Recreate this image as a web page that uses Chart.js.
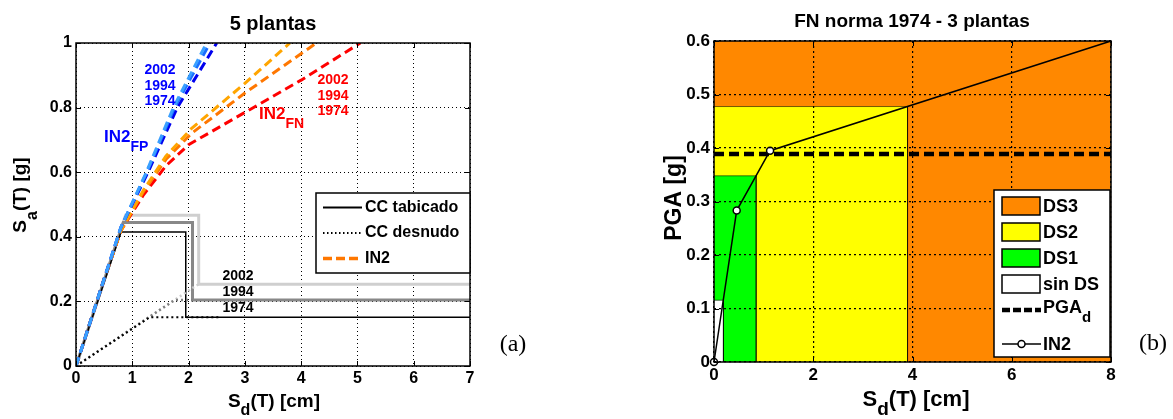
<!DOCTYPE html>
<html>
<head>
<meta charset="utf-8">
<script src="https://cdn.jsdelivr.net/npm/chart.js@4.4.0/dist/chart.umd.min.js"></script>
<style>
html, body { margin: 0; padding: 0; background: #fff; }
#wrap { position: relative; width: 1173px; height: 419px; }
canvas { position: absolute; left: 0; top: 0; }
</style>
</head>
<body>
<div id="wrap">
  <canvas id="chartA" width="1173" height="419"></canvas>
  <canvas id="chartB" width="1173" height="419"></canvas>
</div>
<script>
// ---- (a) 5 plantas ----
var years = ['2002', '1994', '1974'];

// CC tabicado (capacity curves, solid)
var tabX1974 = [0, 0.8, 1.95, 1.95, 7];
var tabY1974 = [0, 0.415, 0.415, 0.151, 0.151];
var tabX1994 = [0, 0.84, 2.07, 2.07, 7];
var tabY1994 = [0, 0.444, 0.444, 0.204, 0.204];
var tabX2002 = [0, 0.88, 2.18, 2.18, 7];
var tabY2002 = [0, 0.467, 0.467, 0.253, 0.253];

// CC desnudo (dotted)
var desX1974 = [0, 1.31, 2.55];
var desY1974 = [0, 0.151, 0.151];
var desX1994 = [0, 1.75, 2.07];
var desY1994 = [0, 0.204, 0.204];
var desX2002 = [0, 2.1, 2.18];
var desY2002 = [0, 0.245, 0.253];

// IN2 FN (dashed, orange/red)
var fnX1974 = [0, 0.5, 0.8, 1.2, 1.6, 2.0, 3, 4, 5.05];
var fnY1974 = [0, 0.27, 0.42, 0.53, 0.62, 0.685, 0.785, 0.885, 1];
var fnX1994 = [0, 0.5, 0.8, 1.2, 1.6, 2.05, 3, 4.27];
var fnY1994 = [0, 0.27, 0.42, 0.54, 0.64, 0.72, 0.845, 1];
var fnX2002 = [0, 0.5, 0.8, 1.2, 1.6, 2.05, 3, 3.8];
var fnY2002 = [0, 0.27, 0.42, 0.545, 0.65, 0.735, 0.875, 1];

// IN2 FP (dashed, blue)
var fpX1974 = [0, 0.5, 0.8, 1.28, 1.8, 2.5];
var fpY1974 = [0, 0.27, 0.43, 0.6, 0.8, 1];
var fpX1994 = [0, 0.5, 0.8, 1.26, 1.75, 2.38];
var fpY1994 = [0, 0.27, 0.43, 0.6, 0.8, 1];
var fpX2002 = [0, 0.5, 0.8, 1.25, 1.73, 2.32];
var fpY2002 = [0, 0.27, 0.43, 0.6, 0.8, 1];

// ---- (b) FN norma 1974 - 3 plantas ----
var ds3X = [0, 8, 8];
var ds3Y = [0.6, 0.6, 0];
var ds2X = [0, 3.9, 3.9];
var ds2Y = [0.4775, 0.4775, 0];
var ds1X = [0, 0.85, 0.85];
var ds1Y = [0.348, 0.348, 0];
var sinX = [0, 0.19, 0.19];
var sinY = [0.1155, 0.1155, 0];
var pgaX = [0, 8];
var pgaY = [0.389, 0.389];
var in2X = [0, 0.457, 1.13, 8];
var in2Y = [0, 0.283, 0.395, 0.6];

var FONT = '"Liberation Sans", Arial, Helvetica, sans-serif';
function f(size, w) { return (w || 'bold') + ' ' + size + 'px ' + FONT; }

function pts(xs, ys) {
  return xs.map(function (x, i) { return { x: x, y: ys[i] }; });
}

function drawRich(ctx, parts, x, y, align) {
  var w = 0;
  parts.forEach(function (p) { ctx.font = p[1]; w += ctx.measureText(p[0]).width; });
  var cx = align === 'center' ? x - w / 2 : (align === 'right' ? x - w : x);
  ctx.textAlign = 'left';
  parts.forEach(function (p) {
    ctx.font = p[1];
    ctx.fillText(p[0], cx, y + (p[2] || 0));
    cx += ctx.measureText(p[0]).width;
  });
}

// box + inward ticks, matlab style
function frame(chart, len) {
  var ctx = chart.ctx, a = chart.chartArea, sx = chart.scales.x, sy = chart.scales.y;
  ctx.save();
  ctx.setLineDash([]);
  ctx.strokeStyle = '#000';
  ctx.lineWidth = 1;
  ctx.beginPath();
  sx.ticks.forEach(function (t) {
    var px = Math.round(sx.getPixelForValue(t.value)) + 0.5;
    ctx.moveTo(px, a.bottom); ctx.lineTo(px, a.bottom - len);
    ctx.moveTo(px, a.top); ctx.lineTo(px, a.top + len);
  });
  sy.ticks.forEach(function (t) {
    var py = Math.round(sy.getPixelForValue(t.value)) + 0.5;
    ctx.moveTo(a.left, py); ctx.lineTo(a.left + len, py);
    ctx.moveTo(a.right, py); ctx.lineTo(a.right - len, py);
  });
  ctx.stroke();
  ctx.lineWidth = 1.5;
  ctx.strokeRect(a.left, a.top, a.right - a.left, a.bottom - a.top);
  ctx.restore();
}

function fmt(v) { return String(Math.round(v * 10) / 10); }

// ---------------- chart (a) ----------------
function dashLine(xs, ys, color) {
  return { data: pts(xs, ys), borderColor: color, borderWidth: 3, borderDash: [9, 5], pointRadius: 0, fill: false };
}
function solidLine(xs, ys, color, w) {
  return { data: pts(xs, ys), borderColor: color, borderWidth: w, pointRadius: 0, fill: false };
}
function dotLine(xs, ys, color, w) {
  return { data: pts(xs, ys), borderColor: color, borderWidth: w, borderDash: [2, 3], pointRadius: 0, fill: false };
}

var annotA = {
  id: 'annotA',
  afterDraw: function (chart) {
    var ctx = chart.ctx;
    frame(chart, 5);
    ctx.save();
    ctx.textBaseline = 'alphabetic';
    ctx.fillStyle = '#000';
    ctx.textAlign = 'center';
    ctx.font = f(20);
    ctx.fillText('5 plantas', 273, 30);
    drawRich(ctx, [['S', f(19)], ['d', f(16), 8], ['(T) [cm]', f(19)]], 274, 407, 'center');

    // year labels
    ctx.font = f(14);
    ctx.textAlign = 'center';
    ctx.fillStyle = '#0000ff';
    ctx.fillText(years[0], 160, 74); ctx.fillText(years[1], 160, 89.5); ctx.fillText(years[2], 160, 105);
    ctx.fillStyle = '#ff0000';
    ctx.fillText(years[0], 333, 83.5); ctx.fillText(years[1], 333, 99.5); ctx.fillText(years[2], 333, 114.5);
    ctx.fillStyle = '#000';
    ctx.fillText(years[0], 238, 280); ctx.fillText(years[1], 238, 296); ctx.fillText(years[2], 238, 312);

    ctx.fillStyle = '#0000ff';
    drawRich(ctx, [['IN2', f(17)], ['FP', f(14), 9]], 104, 142, 'left');
    ctx.fillStyle = '#ff0000';
    drawRich(ctx, [['IN2', f(17)], ['FN', f(14), 9]], 259, 118.5, 'left');

    // legend
    ctx.fillStyle = '#fff';
    ctx.fillRect(316, 193, 154, 80);
    ctx.strokeStyle = '#000';
    ctx.lineWidth = 1.5;
    ctx.strokeRect(316, 193, 154, 80);
    ctx.lineWidth = 2;
    ctx.beginPath(); ctx.moveTo(323, 207.5); ctx.lineTo(362, 207.5); ctx.stroke();
    ctx.setLineDash([1.5, 2.5]);
    ctx.beginPath(); ctx.moveTo(323, 233); ctx.lineTo(362, 233); ctx.stroke();
    ctx.setLineDash([9, 4]);
    ctx.strokeStyle = '#ff7700';
    ctx.lineWidth = 3.5;
    ctx.beginPath(); ctx.moveTo(323, 258.5); ctx.lineTo(362, 258.5); ctx.stroke();
    ctx.setLineDash([]);
    ctx.fillStyle = '#000';
    ctx.font = f(16);
    ctx.textAlign = 'left';
    ctx.textBaseline = 'middle';
    ctx.fillText('CC tabicado', 365, 208);
    ctx.fillText('CC desnudo', 365, 233);
    ctx.fillText('IN2', 365, 259);

    ctx.textBaseline = 'alphabetic';
    ctx.font = '24px "Liberation Serif", "Times New Roman", serif';
    ctx.textAlign = 'center';
    ctx.fillText('(a)', 513, 351);

    ctx.translate(26, 195);
    ctx.rotate(-Math.PI / 2);
    drawRich(ctx, [['S', f(19)], ['a', f(16), 11], ['(T) [g]', f(19)]], 0, 0, 'center');
    ctx.restore();
  }
};

new Chart(document.getElementById('chartA'), {
  type: 'line',
  data: {
    datasets: [
      dashLine(fpX2002, fpY2002, '#3aa0ff'),
      dashLine(fpX1994, fpY1994, '#1a6eff'),
      dashLine(fpX1974, fpY1974, '#0000ee'),
      dashLine(fnX2002, fnY2002, '#ffa500'),
      dashLine(fnX1994, fnY1994, '#ff7700'),
      dashLine(fnX1974, fnY1974, '#ff0000'),
      dotLine(desX1974, desY1974, '#000000', 2),
      dotLine(desX1994, desY1994, '#808080', 2.5),
      dotLine(desX2002, desY2002, '#cccccc', 2.5),
      solidLine(tabX1974, tabY1974, '#000000', 1.5),
      solidLine(tabX1994, tabY1994, '#888888', 3),
      solidLine(tabX2002, tabY2002, '#cfcfcf', 3)
    ]
  },
  options: {
    responsive: false,
    animation: false,
    layout: { padding: { left: 0, top: 43, right: 703, bottom: 0 } },
    plugins: { legend: { display: false }, tooltip: { enabled: false } },
    scales: {
      x: {
        type: 'linear', min: 0, max: 7,
        ticks: { stepSize: 1, color: '#000', font: { family: FONT, size: 16, weight: 'bold' }, padding: 3, callback: fmt, maxRotation: 0 },
        grid: { color: '#000', lineWidth: 1, drawTicks: false },
        border: { display: false, dash: [1, 3] },
        afterFit: function (s) { s.height = 53; }
      },
      y: {
        type: 'linear', min: 0, max: 1,
        ticks: { stepSize: 0.2, color: '#000', font: { family: FONT, size: 16, weight: 'bold' }, padding: 4, callback: fmt },
        grid: { color: '#000', lineWidth: 1, drawTicks: false },
        border: { display: false, dash: [1, 3] },
        afterFit: function (s) { s.width = 76; }
      }
    }
  },
  plugins: [annotA]
});

// ---------------- chart (b) ----------------
function band(xs, ys, color, edge) {
  return { data: pts(xs, ys), borderColor: edge, borderWidth: edge ? 1 : 0, backgroundColor: color, pointRadius: 0, fill: 'origin' };
}

var annotB = {
  id: 'annotB',
  afterDraw: function (chart) {
    var ctx = chart.ctx, ds = chart.data.datasets;
    frame(chart, 5);
    ctx.save();
    ctx.fillStyle = '#000';
    ctx.textBaseline = 'alphabetic';
    ctx.textAlign = 'center';
    ctx.font = f(19);
    ctx.fillText('FN norma 1974 - 3 plantas', 912, 27);
    drawRich(ctx, [['S', f(22)], ['d', f(19), 9], ['(T) [cm]', f(22)]], 916, 406, 'center');

    // legend
    var bx = 994, by = 190, bw = 116, bh = 167;
    ctx.fillStyle = '#fff';
    ctx.fillRect(bx, by, bw, bh);
    ctx.strokeStyle = '#000';
    ctx.lineWidth = 1.5;
    ctx.strokeRect(bx, by, bw, bh);
    var rows = [[ds[5], 'DS3', 206], [ds[4], 'DS2', 232], [ds[3], 'DS1', 258], [ds[2], 'sin DS', 284]];
    rows.forEach(function (r) {
      ctx.fillStyle = r[0].backgroundColor;
      ctx.fillRect(1002, r[2] - 9, 38, 18);
      ctx.strokeStyle = '#000';
      ctx.lineWidth = 1.5;
      ctx.strokeRect(1002, r[2] - 9, 38, 18);
    });
    ctx.strokeStyle = '#000';
    ctx.lineWidth = 4.5;
    ctx.setLineDash([8, 3]);
    ctx.beginPath(); ctx.moveTo(1002, 310); ctx.lineTo(1041, 310); ctx.stroke();
    ctx.setLineDash([]);
    ctx.lineWidth = 1.5;
    ctx.beginPath(); ctx.moveTo(1002, 344); ctx.lineTo(1041, 344); ctx.stroke();
    ctx.fillStyle = '#fff';
    ctx.beginPath(); ctx.arc(1021.5, 344, 3.5, 0, Math.PI * 2); ctx.fill(); ctx.stroke();

    ctx.fillStyle = '#000';
    ctx.font = f(18);
    ctx.textAlign = 'left';
    ctx.textBaseline = 'middle';
    rows.forEach(function (r) { ctx.fillText(r[1], 1043, r[2] + 1); });
    drawRich(ctx, [['PGA', f(18)], ['d', f(15), 10]], 1043, 308, 'left');
    ctx.font = f(18);
    ctx.textAlign = 'left';
    ctx.fillText('IN2', 1043, 345);

    ctx.textBaseline = 'alphabetic';
    ctx.font = '24px "Liberation Serif", "Times New Roman", serif';
    ctx.textAlign = 'center';
    ctx.fillText('(b)', 1153, 350);

    ctx.translate(681, 198);
    ctx.rotate(-Math.PI / 2);
    ctx.font = f(23);
    ctx.textAlign = 'center';
    ctx.fillText('PGA [g]', 0, 0);
    ctx.restore();
  }
};

new Chart(document.getElementById('chartB'), {
  type: 'line',
  data: {
    datasets: [
      { data: pts(in2X, in2Y), borderColor: '#000', borderWidth: 1.5, fill: false, clip: false,
        pointRadius: [3.5, 3.5, 3.5, 0], pointBackgroundColor: '#fff', pointBorderColor: '#000', pointBorderWidth: 1.5 },
      { data: pts(pgaX, pgaY), borderColor: '#000', borderWidth: 4.5, borderDash: [10, 5], pointRadius: 0, fill: false },
      band(sinX, sinY, '#ffffff', 'rgba(0,0,0,0.6)'),
      band(ds1X, ds1Y, '#00ff00', 'rgba(0,0,0,0.55)'),
      band(ds2X, ds2Y, '#ffff00', 'rgba(0,0,0,0.55)'),
      band(ds3X, ds3Y, '#ff8800', null)
    ]
  },
  options: {
    responsive: false,
    animation: false,
    layout: { padding: { left: 0, top: 41, right: 62, bottom: 0 } },
    plugins: { legend: { display: false }, tooltip: { enabled: false } },
    scales: {
      x: {
        type: 'linear', min: 0, max: 8,
        ticks: { stepSize: 2, color: '#000', font: { family: FONT, size: 17, weight: 'bold' }, padding: 3, callback: fmt, maxRotation: 0 },
        grid: { color: '#000', lineWidth: 1.2, drawTicks: false, z: 1 },
        border: { display: false, dash: [2, 3] },
        afterFit: function (s) { s.height = 57; }
      },
      y: {
        type: 'linear', min: 0, max: 0.6,
        ticks: { stepSize: 0.1, color: '#000', font: { family: FONT, size: 17, weight: 'bold' }, padding: 4, callback: fmt },
        grid: { color: '#000', lineWidth: 1.2, drawTicks: false, z: 1 },
        border: { display: false, dash: [2, 3] },
        afterFit: function (s) { s.width = 714; }
      }
    }
  },
  plugins: [annotB]
});
</script>
</body>
</html>
